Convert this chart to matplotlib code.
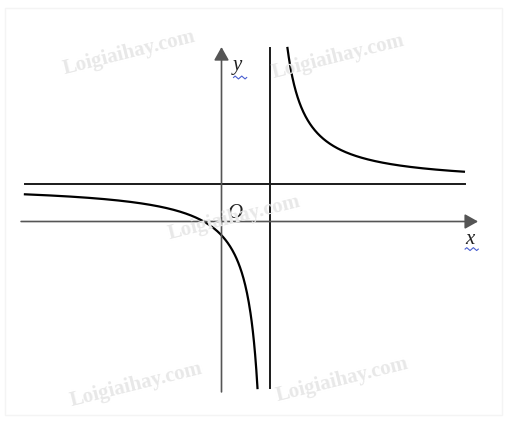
import matplotlib.pyplot as plt
import numpy as np

# Graph of y = b + k / (x - a) (1 unit ~ 24 px)
asym_x = 2.0          # vertical asymptote
asym_y = 1.55         # horizontal asymptote
k = 4.25              # branch spread

# where things start and stop (data units)
x_axis_span = [-8.35, 10.69]
y_axis_span = [-7.1, 7.27]
h_asym_span = [-8.19, 10.15]
v_asym_span = [-6.94, 7.23]
left_branch_x0 = -8.19
right_branch_x1 = 10.1

# watermark positions (figure fraction)
wm_pos = [(0.255, 0.875), (0.667, 0.865), (0.462, 0.482), (0.268, 0.085), (0.675, 0.097)]
wm_text = "Loigiaihay.com"

fig = plt.figure(figsize=(5.07, 4.21), dpi=100)
ax = fig.add_axes([0, 0, 1, 1])
ax.set_xlim(-221.5 / 24, 285.5 / 24)
ax.set_ylim(-199.5 / 24, 221.5 / 24)
ax.axis("off")

# faint frame round the picture
frame = plt.Rectangle((0.01, 0.015), 0.98, 0.965, transform=fig.transFigure,
                      fill=False, edgecolor="#f4f4f4", lw=1.0)
fig.patches.append(frame)

# watermarks
for (fx, fy) in wm_pos:
    fig.text(fx, fy, wm_text, fontsize=15, fontweight="bold", family="Liberation Serif",
             color="#e8e8e8", rotation=14, ha="center", va="center", zorder=0)

# axes with arrows
arrow = dict(arrowstyle="-|>,head_length=0.5,head_width=0.28", color="#555555", lw=1.2,
             mutation_scale=16, shrinkA=0, shrinkB=0)
ax.annotate("", xy=(x_axis_span[1], 0), xytext=(x_axis_span[0], 0), arrowprops=arrow)
ax.annotate("", xy=(0, y_axis_span[1]), xytext=(0, y_axis_span[0]), arrowprops=arrow)

# asymptotes
ax.plot(h_asym_span, [asym_y, asym_y], color="#1a1a1a", lw=1.4)
ax.plot([asym_x, asym_x], v_asym_span, color="#1a1a1a", lw=1.4)

# the two branches
x_left_end = asym_x + k / (v_asym_span[0] - asym_y)
x_right_start = asym_x + k / (v_asym_span[1] - asym_y)
xl = np.linspace(left_branch_x0, x_left_end, 400)
xr = np.linspace(x_right_start, right_branch_x1, 400)
ax.plot(xl, asym_y + k / (xl - asym_x), color="black", lw=1.6)
ax.plot(xr, asym_y + k / (xr - asym_x), color="black", lw=1.6)

# labels
lab = dict(family="Liberation Serif", style="italic", fontsize=15, color="#222222")
ax.text(0.45, 6.5, "y", ha="left", va="center", **lab)
ax.text(10.15, -0.75, "x", ha="left", va="center", **lab)
ax.text(0.25, 0.35, "O", ha="left", va="center", **lab)

# blue spell-check squiggles under x and y
for (sx, sy) in [(0.5, 6.0), (10.15, -1.15)]:
    wx = np.linspace(sx, sx + 0.55, 9)
    wy = sy + 0.06 * np.array([0, 1, 0, -1, 0, 1, 0, -1, 0])
    ax.plot(wx, wy, color="#4a5fd0", lw=0.8)

fig.savefig("out.png", dpi=100)
